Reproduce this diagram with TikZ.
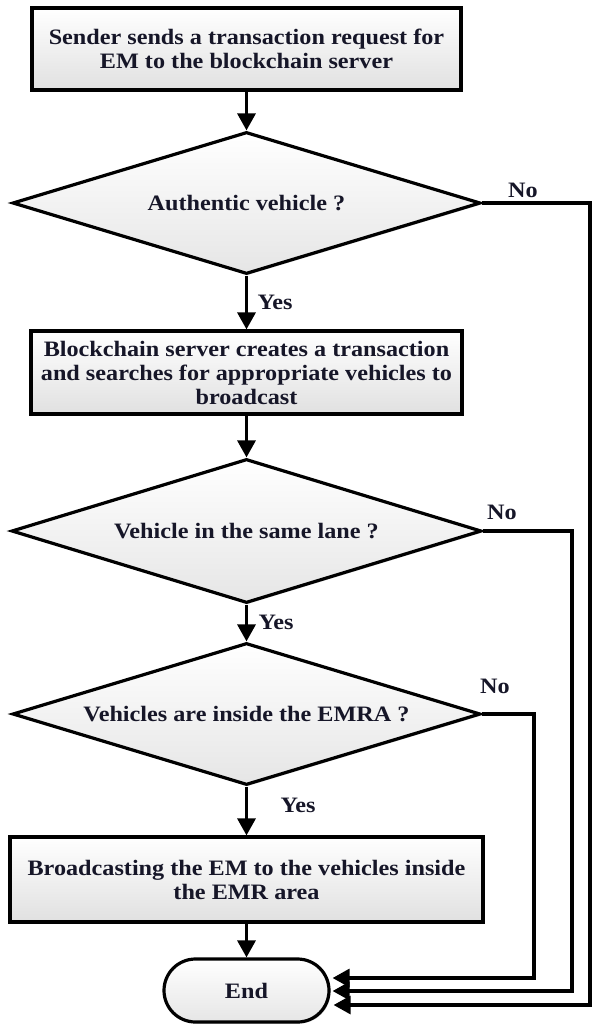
\documentclass[tikz,border=0pt]{standalone}
\usepackage{fontspec}
\setmainfont{Liberation Serif}[FakeStretch=1.1]
\usetikzlibrary{arrows.meta,shapes.geometric,shapes.misc,shadows,calc}
\definecolor{txt}{RGB}{22,22,40}
\begin{document}
\begin{tikzpicture}[x=1pt,y=-1pt,
  every node/.style={text=txt, font=\bfseries\fontsize{22}{24}\selectfont},
  sh/.style={drop shadow={shadow xshift=1.5pt, shadow yshift=-1.5pt, fill=black!40, opacity=0.5}},
  proc/.style={sh, draw=black, line width=3.2pt, top color=white, bottom color=black!12, align=center, inner sep=0pt},
  dec/.style={sh, diamond, draw=black, line width=3.2pt, top color=white, bottom color=black!10, aspect=3.3, inner sep=0pt, align=center},
  term/.style={sh, rounded rectangle, draw=black, line width=3.2pt, top color=white, bottom color=black!10, minimum width=165pt, minimum height=63pt, inner sep=0pt},
  arr/.style={line width=3.2pt, -{Triangle[length=17pt,width=18pt]}},
  lbl/.style={inner sep=0pt}]
\useasboundingbox (0,0) rectangle (592,1025);

\node[proc, minimum width=429pt, minimum height=82pt] (b1) at (246.5,49)
  {Sender sends a transaction request for\\EM to the blockchain server};
\node[dec, minimum width=468pt, minimum height=142pt] (d1) at (246.5,203) {Authentic vehicle ?};
\node[proc, minimum width=431pt, minimum height=83pt] (b2) at (246.5,372.5)
  {Blockchain server creates a transaction\\and searches for appropriate vehicles to\\broadcast};
\node[dec, minimum width=470pt, minimum height=144pt] (d2) at (246.5,531) {Vehicle in the same lane ?};
\node[dec, minimum width=468pt, minimum height=142pt] (d3) at (246.5,714) {Vehicles are inside the EMRA ?};
\node[proc, minimum width=473pt, minimum height=85pt] (b3) at (246.5,879.5)
  {Broadcasting the EM to the vehicles inside\\the EMR area};
\node[term] (end) at (246.5,990.5) {End};

\node[lbl] (y1) at (275,302) {Yes};
\node[lbl] (y2) at (276,622) {Yes};
\node[lbl] (y3) at (298,805) {Yes};
\node[lbl] (n1) at (523,190) {No};
\node[lbl] (n2) at (502,512) {No};
\node[lbl] (n3) at (495,686) {No};

\draw[arr] (b1.south) -- (d1.north);
\draw[arr] (d1.south) -- (b2.north);
\draw[arr] (b2.south) -- (d2.north);
\draw[arr] (d2.south) -- (d3.north);
\draw[arr] (d3.south) -- (b3.north);
\draw[arr] (b3.south) -- (end.north);

\coordinate (r1) at (590,0);
\coordinate (r2) at (572,0);
\coordinate (r3) at (534,0);
\coordinate (t1) at ($(end.east)+(3,14.5)$);
\coordinate (t2) at ($(end.east)+(2,0.5)$);
\coordinate (t3) at ($(end.east)+(2,-12.5)$);

\draw[arr] (d1.east) -- (d1.east -| r1) -- (r1 |- t1) -- (t1);
\draw[arr] (d2.east) -- (d2.east -| r2) -- (r2 |- t2) -- (t2);
\draw[arr] (d3.east) -- (d3.east -| r3) -- (r3 |- t3) -- (t3);
\end{tikzpicture}
\end{document}
